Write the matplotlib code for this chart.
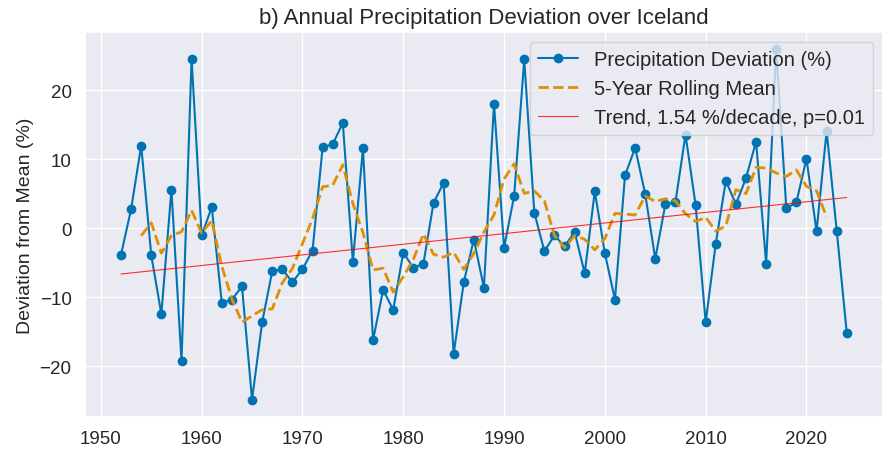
import numpy as np
import pandas as pd
import matplotlib
matplotlib.use("Agg")
import matplotlib.pyplot as plt
import seaborn as sns

years = np.arange(1952, 2025)
deviation = [-3.8, 2.8, 12.0, -3.9, -12.4, 5.6, -19.2, 24.6, -1.0, 3.1,
             -10.8, -10.3, -8.4, -24.8, -13.6, -6.2, -5.9, -7.8, -5.9, -3.2,
             11.8, 12.2, 15.3, -4.8, 11.6, -16.2, -8.9, -11.8, -3.5, -5.7,
             -5.1, 3.7, 6.6, -18.2, -7.8, -1.6, -8.6, 18.1, -2.8, 4.7,
             24.5, 2.3, -3.3, -1.0, -2.6, -0.5, -6.5, 5.4, -3.6, -10.3,
             7.7, 11.7, 5.0, -4.4, 3.5, 3.8, 13.6, 3.4, -13.6, -2.2,
             6.9, 3.5, 7.3, 12.6, -5.1, 26.0, 2.9, 3.8, 10.1, -0.4,
             14.1, -0.3, -15.2]
# trend as drawn in the picture: value at 1952 and slope (%/decade)
trend_start = -6.6
trend_per_decade = 1.54
trend_label = "Trend, 1.54 %/decade, p=0.01"

sns.set_theme(style="darkgrid")
plt.rcParams['font.family'] = ['Liberation Sans', 'DejaVu Sans']

df = pd.DataFrame({"year": years, "dev": deviation})
df["rolling"] = df["dev"].rolling(5, center=True).mean()
df["trend"] = trend_start + trend_per_decade / 10 * (df["year"] - years[0])

pal = sns.color_palette("colorblind")

fig, ax = plt.subplots(figsize=(8.92, 4.52), dpi=100)
fig.subplots_adjust(left=0.095, right=0.99, top=0.928, bottom=0.075)

ax.plot(df["year"], df["dev"], marker="o", markersize=6, lw=1.5,
        color=pal[0], label="Precipitation Deviation (%)")
ax.plot(df["year"], df["rolling"], "--", lw=2, color=pal[1],
        label="5-Year Rolling Mean")
ax.plot(df["year"], df["trend"], color="red", lw=0.8,
        alpha=0.8, label=trend_label)

ax.set_title("b) Annual Precipitation Deviation over Iceland", fontsize=16)
ax.set_ylabel("Deviation from Mean (%)", fontsize=14)
ax.tick_params(labelsize=13.5)
ax.legend(loc="upper right", fontsize=14.5)

fig.savefig("out.png", dpi=100)
